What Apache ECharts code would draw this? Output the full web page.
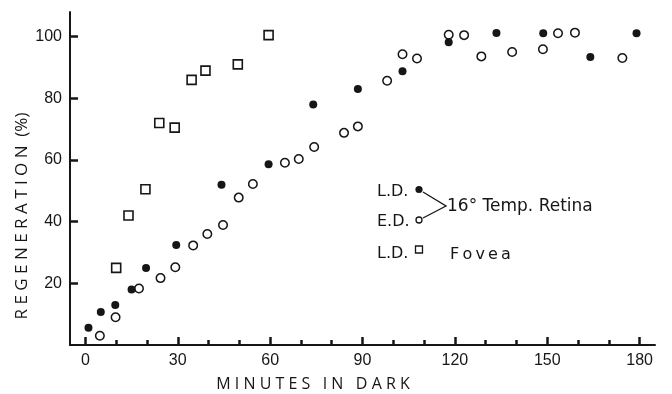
<!DOCTYPE html>
<html>
<head>
<meta charset="utf-8">
<script src="https://cdn.jsdelivr.net/npm/echarts@6/dist/echarts.min.js"></script>
<style>
html,body{margin:0;padding:0;background:#fff;}
#chart{width:672px;height:394px;}
</style>
</head>
<body>
<div id="chart"></div>
<script>
// Fovea, light-dark (L.D.) — open squares
const foveaLDMinutes = [10, 14, 19.5, 24, 29, 34.5, 39, 49.5, 59.5];
const foveaLDRegen   = [25, 42, 50.5, 72, 70.5, 86, 89, 91, 100.5];

// 16° temporal retina, L.D. — filled circles
const retinaLDMinutes = [1, 5, 9.7, 15, 19.7, 29.5, 44.2, 59.5, 74, 88.5, 103, 118, 133.5, 148.7, 164, 179];
const retinaLDRegen   = [5.6, 10.7, 13, 18, 25, 32.4, 52, 58.6, 78, 83, 88.8, 98.2, 101.2, 101.1, 93.4, 101.1];

// 16° temporal retina, E.D. — open circles
const retinaEDMinutes = [4.7, 9.8, 17.4, 24.4, 29.2, 35, 39.6, 44.7, 49.8, 54.4, 64.8, 69.3, 74.3, 84, 88.5, 98, 103, 107.7, 118, 123, 128.6, 138.6, 148.6, 153.5, 159, 174.4];
const retinaEDRegen   = [3, 9, 18.3, 21.7, 25.2, 32.3, 36, 38.9, 47.8, 52.2, 59.1, 60.3, 64.2, 68.8, 70.9, 85.7, 94.3, 92.9, 100.6, 100.5, 93.6, 95, 95.9, 101.1, 101.3, 93.1];

// axis ranges / ticks
const xRange = [-5, 185];
const xTickRange = [0, 180];
const xTickStep = 30;
const xMinorSplit = 3;
const yRange = [0, 108];
const yTickRange = [0, 100];
const yTickStep = 20;

const xTitle = 'M I N U T E S   I N   D A R K';
const yTitle = 'R E G E N E R A T I O N  (%)';

const INK = '#161616';
const FONT = '"DejaVu Sans", "Noto Sans", sans-serif';
const TFONT = '"Open Sans", "DejaVu Sans", sans-serif';

function pairs(xs, ys) { return xs.map((x, i) => [x, ys[i]]); }

const G = {left: 70, right: 17, top: 12, bottom: 49};
const W = 672 - G.left - G.right;
const H = 394 - G.top - G.bottom;
const pxPerX = W / (xRange[1] - xRange[0]);
const pxPerY = H / (yRange[1] - yRange[0]);
const g2 = {
  left: G.left + (xTickRange[0] - xRange[0]) * pxPerX,
  right: G.right + (xRange[1] - xTickRange[1]) * pxPerX,
  top: G.top + (yRange[1] - yTickRange[1]) * pxPerY,
  bottom: G.bottom
};

const chart = echarts.init(document.getElementById('chart'));
chart.setOption({
  animation: false,
  grid: [
    {left: G.left, right: G.right, top: G.top, bottom: G.bottom, outerBoundsMode: 'none'},
    {left: g2.left, right: g2.right, top: g2.top, bottom: g2.bottom, outerBoundsMode: 'none'}
  ],
  xAxis: [
    {gridIndex: 0, type: 'value', min: xRange[0], max: xRange[1],
      axisLine: {show: true, onZero: false, lineStyle: {color: INK, width: 2}},
      axisTick: {show: true, inside: true, length: 8, customValues: [0, 30, 60, 90, 120, 150, 180], lineStyle: {color: INK, width: 2.5}},
      axisLabel: {show: false}, splitLine: {show: false}},
    {gridIndex: 1, type: 'value', min: xTickRange[0], max: xTickRange[1], interval: xTickStep,
      axisLine: {show: false, onZero: false},
      axisTick: {show: true, inside: true, length: 8, lineStyle: {color: INK, width: 2.5}},
      minorTick: {show: true, splitNumber: xMinorSplit, length: 5, lineStyle: {color: INK, width: 2.5}},
      axisLabel: {show: true, color: INK, fontSize: 16}, splitLine: {show: false}}
  ],
  yAxis: [
    {gridIndex: 0, type: 'value', min: yRange[0], max: yRange[1],
      axisLine: {show: true, onZero: false, lineStyle: {color: INK, width: 2}},
      axisTick: {show: true, inside: true, length: 8, customValues: [20, 40, 60, 80, 100], lineStyle: {color: INK, width: 2.5}},
      axisLabel: {show: false}, splitLine: {show: false}},
    {gridIndex: 1, type: 'value', min: yTickRange[0], max: yTickRange[1], interval: yTickStep, offset: g2.left - G.left,
      axisLine: {show: true, onZero: false, lineStyle: {color: INK, width: 2}},
      axisTick: {show: true, inside: true, length: 8, lineStyle: {color: INK, width: 2.5}},
      axisLabel: {show: true, color: INK, fontSize: 16, showMinLabel: false}, splitLine: {show: false}}
  ],
  series: [
    {type: 'scatter', symbol: 'rect', symbolSize: 9, data: pairs(foveaLDMinutes, foveaLDRegen),
      itemStyle: {color: '#fff', borderColor: INK, borderWidth: 1.6, opacity: 1}},
    {type: 'scatter', symbol: 'circle', symbolSize: 8.5, data: pairs(retinaEDMinutes, retinaEDRegen),
      itemStyle: {color: '#fff', borderColor: INK, borderWidth: 1.5, opacity: 1}},
    {type: 'scatter', symbol: 'circle', symbolSize: 8, data: pairs(retinaLDMinutes, retinaLDRegen),
      itemStyle: {color: INK, borderWidth: 0, opacity: 1}}
  ],
  graphic: [
    {type: 'text', x: 313, y: 384, style: {text: xTitle, fill: INK, font: '16px ' + TFONT, align: 'center', verticalAlign: 'middle'}},
    {type: 'text', x: 22, y: 216, rotation: Math.PI / 2, style: {text: yTitle, fill: INK, font: '17px ' + TFONT, align: 'center', verticalAlign: 'middle'}},
    {type: 'text', x: 377, y: 192, style: {text: 'L.D.', fill: INK, font: '16px ' + FONT, verticalAlign: 'middle'}},
    {type: 'text', x: 377, y: 222, style: {text: 'E.D.', fill: INK, font: '16px ' + FONT, verticalAlign: 'middle'}},
    {type: 'text', x: 377, y: 254, style: {text: 'L.D.', fill: INK, font: '16px ' + FONT, verticalAlign: 'middle'}},
    {type: 'circle', shape: {cx: 419, cy: 189.5, r: 3.6}, style: {fill: INK}},
    {type: 'circle', shape: {cx: 419, cy: 220, r: 3}, style: {fill: '#fff', stroke: INK, lineWidth: 1.3}},
    {type: 'rect', shape: {x: 415.5, y: 246, width: 7, height: 7}, style: {fill: '#fff', stroke: INK, lineWidth: 1.3}},
    {type: 'polyline', shape: {points: [[423, 192], [446, 206], [423, 218]]}, style: {fill: null, stroke: INK, lineWidth: 1.3}},
    {type: 'text', x: 447, y: 207, style: {text: '16° Temp. Retina', fill: INK, font: '17px ' + FONT, verticalAlign: 'middle'}},
    {type: 'text', x: 450, y: 255, style: {text: 'F\u2009o\u2009v\u2009e\u2009a', fill: INK, font: '16px ' + FONT, verticalAlign: 'middle'}}
  ]
});
</script>
</body>
</html>
